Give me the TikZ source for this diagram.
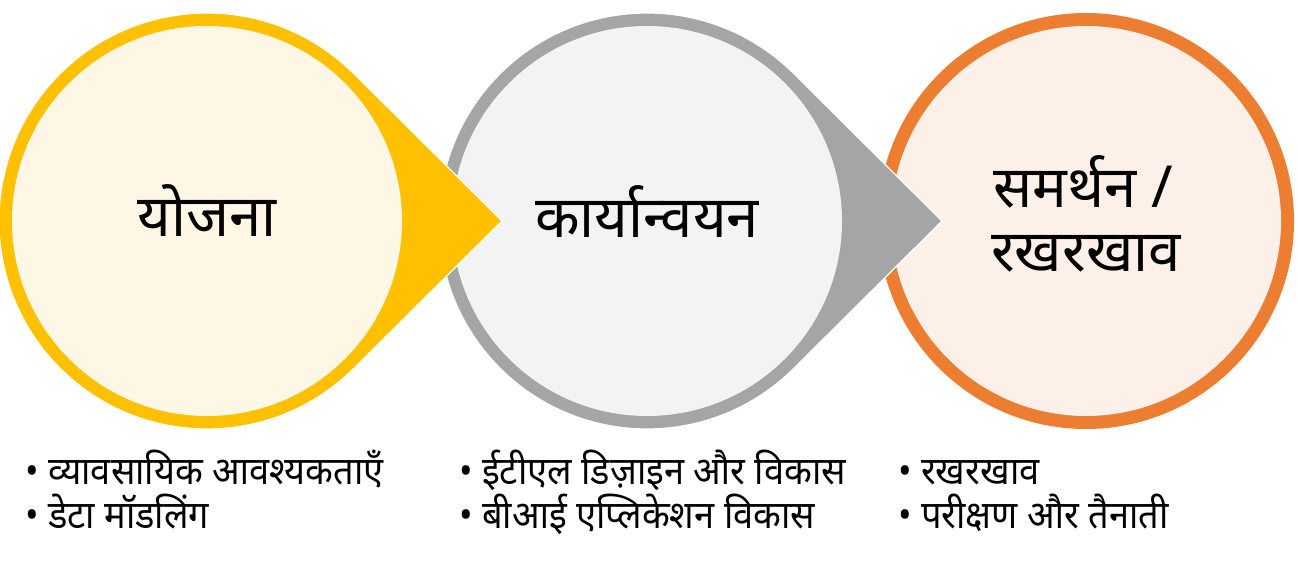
\documentclass[tikz,border=0pt]{standalone}
\usepackage{fontspec}
\usetikzlibrary{calc}
\newfontfamily\deva[Script=Devanagari]{Noto Sans}
\newfontfamily\devanarrow[Script=Devanagari,FakeStretch=0.94]{Noto Sans}
\definecolor{yring}{HTML}{FFC000}
\definecolor{yfill}{HTML}{FFF7E5}
\definecolor{gring}{HTML}{A5A5A5}
\definecolor{gfill}{HTML}{F3F3F3}
\definecolor{oring}{HTML}{ED7D31}
\definecolor{ofill}{HTML}{FDF0E8}
\begin{document}
\begin{tikzpicture}[x=1pt,y=1pt,
  title/.style={font=\deva\fontsize{58}{64}\selectfont, anchor=base, text=black, inner sep=0pt},
  item/.style={font=\devanarrow\fontsize{38.5}{44}\selectfont, anchor=base west, text=black, inner sep=0pt}]
\useasboundingbox (0,0) rectangle (1298,562);
\fill[white] (0,0) rectangle (1298,562);
\def\R{208}
\def\Ri{195}
\def\D{295}
\pgfmathsetmacro{\th}{acos(\R/\D)}
% orange (bottom layer)
\coordinate (oc) at (1086,341);
\fill[oring] (oc) circle (\R);
\fill[ofill] (oc) circle (\Ri);
% gray
\coordinate (gc) at (647,341);
\coordinate (gt) at ($(gc)+(\D,0)$);
\filldraw[gring, draw=white, line width=1.2pt] (gt) -- ($(gc)+(\th:\R)$) arc[start angle=\th, end angle=360-\th, radius=\R] -- cycle;
\fill[gfill] (gc) circle (\Ri);
% yellow
\coordinate (yc) at (207,341);
\coordinate (yt) at ($(yc)+(\D,0)$);
\filldraw[yring, draw=white, line width=1.2pt] (yt) -- ($(yc)+(\th:\R)$) arc[start angle=\th, end angle=360-\th, radius=\R] -- cycle;
\fill[yfill] (yc) circle (\Ri);
% titles
\node[title] (t1) at (207,325) {योजना};
\node[title] (t2) at (647,324) {कार्यान्वयन};
\node[title] (t3a) at (1083,354) {समर्थन /};
\node[title] (t3b) at (1086,290) {रखरखाव};
% items
\node[item] (a1) at (25,77) {• व्यावसायिक आवश्यकताएँ};
\node[item] (a2) at (25,33) {• डेटा मॉडलिंग};
\node[item] (b1) at (459,77) {• ईटीएल डिज़ाइन और विकास};
\node[item] (b2) at (459,33) {• बीआई एप्लिकेशन विकास};
\node[item] (c1) at (898,77) {• रखरखाव};
\node[item] (c2) at (898,33) {• परीक्षण और तैनाती};
\end{tikzpicture}
\end{document}
